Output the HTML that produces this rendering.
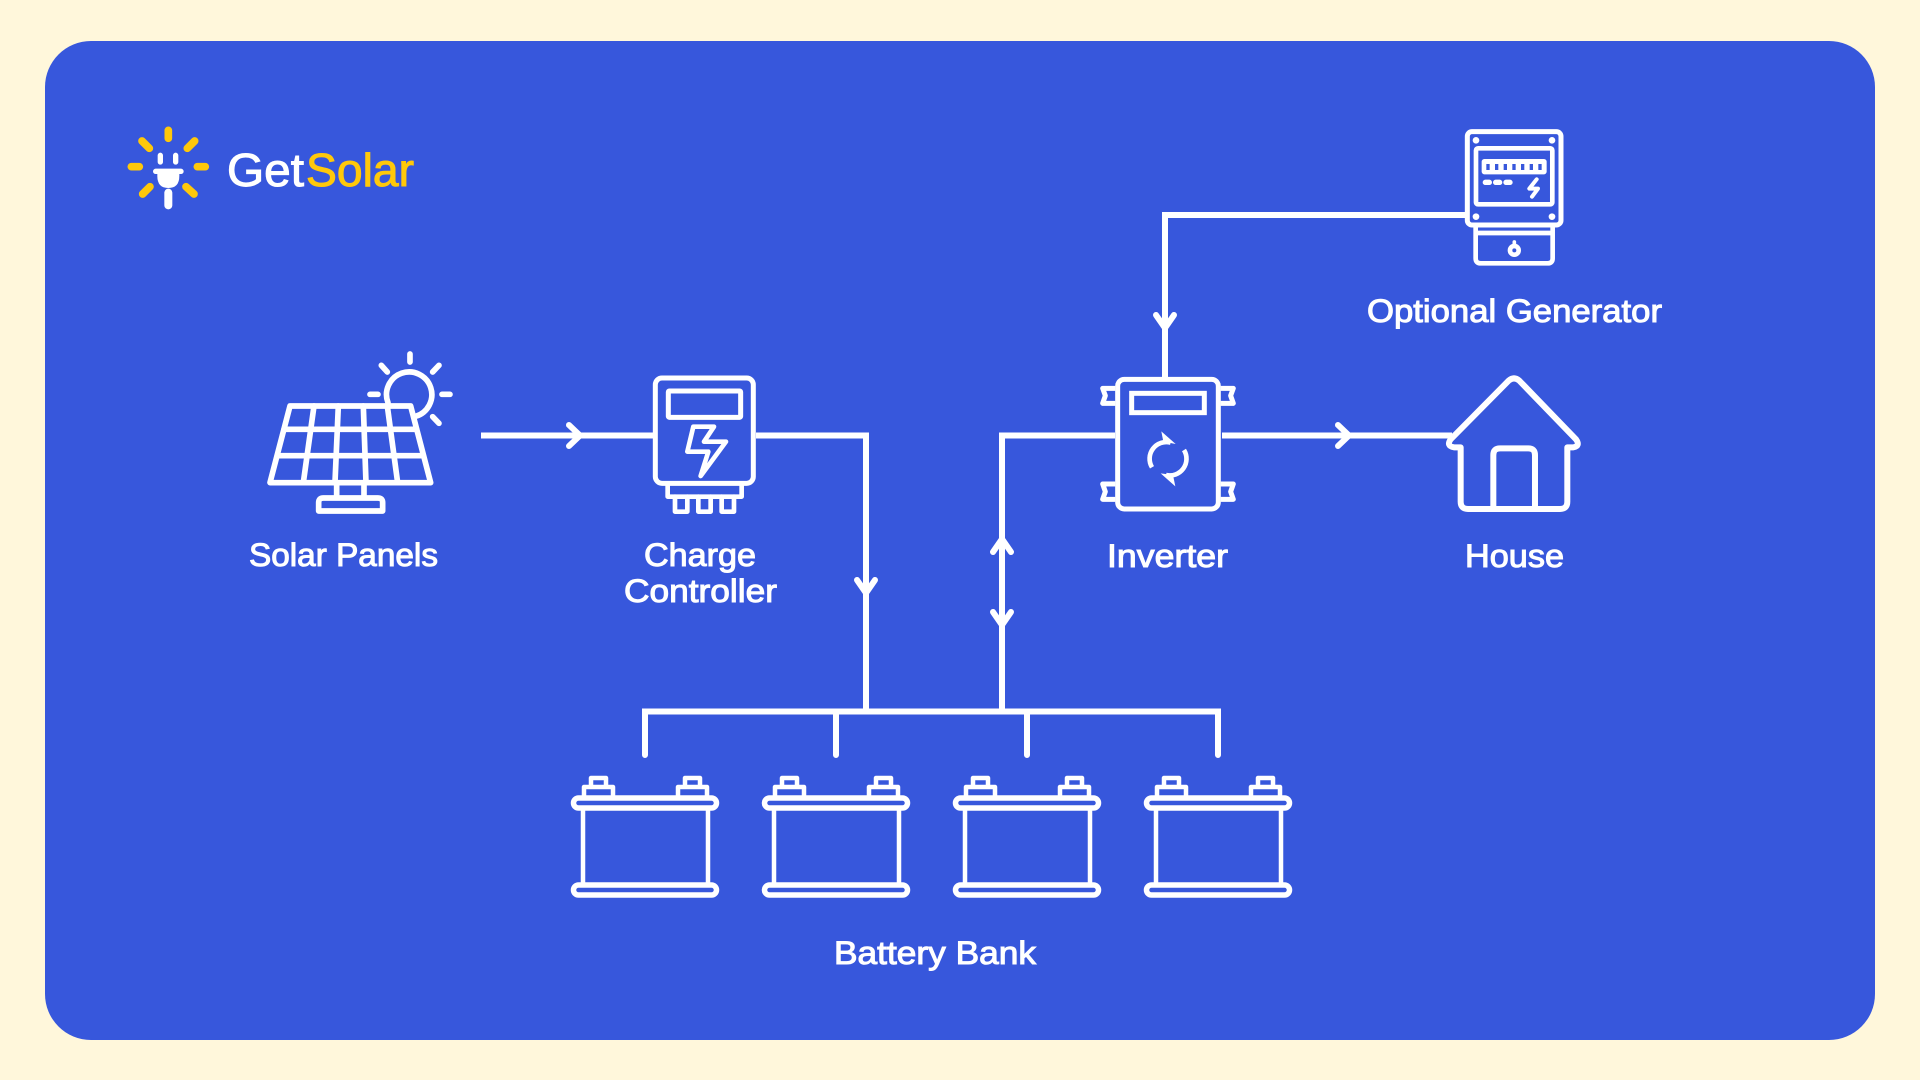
<!DOCTYPE html>
<html lang="en">
<head>
<meta charset="utf-8">
<title>GetSolar diagram</title>
<style>
html,body{margin:0;padding:0;background:#FFF7DB;width:1920px;height:1080px;overflow:hidden}
svg{display:block}
.w{fill:none;stroke:#fff;stroke-linecap:round;stroke-linejoin:round}
.c{fill:none;stroke:#fff;stroke-width:6;stroke-linejoin:miter;stroke-linecap:butt}
.a{fill:none;stroke:#fff;stroke-width:6;stroke-linejoin:round;stroke-linecap:round}
.l{font-family:"Liberation Sans",sans-serif;font-size:32px;font-weight:400;fill:#fff;stroke:#fff;stroke-width:1px}
</style>
</head>
<body>
<svg width="1920" height="1080" viewBox="0 0 1920 1080" xmlns="http://www.w3.org/2000/svg">
<rect width="1920" height="1080" fill="#FFF7DB"/>
<rect x="45" y="41" width="1830" height="999" rx="46" fill="#3757DC"/>

<!-- Logo -->
<g transform="translate(100,100) scale(.3333)">
  <g fill="none" stroke="#FFC80A" stroke-width="23" stroke-linecap="round">
    <path d="M205 91V115M94 200H118M292 200H316M126 123L148 145M284 123L262 145M150 260L128 282M258 260L282 282"/>
  </g>
  <g fill="none" stroke="#fff" stroke-linecap="round">
    <path d="M181 166V186M227 166V186" stroke-width="16"/>
    <path d="M167 214H243" stroke-width="16"/>
    <path d="M205 278V316" stroke-width="24"/>
  </g>
  <path d="M172 214H238V228Q238 264 205 264Q172 264 172 228Z" fill="#fff"/>
</g>
<text x="227" y="186" font-family="'Liberation Sans',sans-serif" font-size="46" fill="#fff" stroke="#fff" stroke-width="1" textLength="77" lengthAdjust="spacingAndGlyphs">Get</text>
<text x="306" y="186" font-family="'Liberation Sans',sans-serif" font-size="46" fill="#FFC80A" stroke="#FFC80A" stroke-width="1" textLength="108" lengthAdjust="spacingAndGlyphs">Solar</text>

<!-- Connectors -->
<path class="c" d="M481 435.500H653"/>
<path class="a" d="M569 425L580 435.500L569 446"/>
<path class="c" d="M756 435.500H866V711"/>
<path class="a" d="M857 580L866 593L875 580"/>
<path class="c" d="M1115 435.500H1002V711"/>
<path class="a" d="M993 552L1002 539L1011 552"/>
<path class="a" d="M993 612L1002 625L1011 612"/>
<path class="c" d="M1222 435.500H1452"/>
<path class="a" d="M1338 425L1349 435.500L1338 446"/>
<path class="c" d="M1465 215H1165V378"/>
<path class="a" d="M1156 315L1165 328L1174 315"/>
<path d="M645 755V711.500H1218V755M836 711.500V755M1027 711.500V755" fill="none" stroke="#fff" stroke-width="6" stroke-linecap="round" stroke-linejoin="miter"/>

<!-- Solar panel -->
<g transform="translate(240,340) scale(.3333)" class="w" stroke-width="17">
  <path d="M150 198H512L572 428H90Z"/>
  <path d="M132 268H530M113 347H550M222 198L190 428M295 198L285 428M370 198L378 428M442 198L473 428"/>
  <path d="M290 428V472M372 428V472"/>
  <path d="M236 513V488Q236 474 250 474H414Q428 474 428 488V513Z"/>
  <path d="M444 188A68 68 0 1 1 527 229"/>
  <path d="M510 42V66M390 163H414M606 163H630M424 76L442 96M597 76L578 96M578 230L597 250"/>
</g>

<!-- Charge controller -->
<g transform="translate(600,360) scale(.3333)" class="w" stroke-width="15">
  <rect x="166" y="54" width="294" height="316" rx="20"/>
  <rect x="205" y="93" width="217" height="79" rx="3"/>
  <path d="M280 200H342L312 245H378L302 348L325 275H262Z" stroke-width="14"/>
  <path d="M203 375V410H425V375" stroke-width="14"/>
  <path d="M225 410V455H262V410M295 410V455H332V410M365 410V455H402V410" stroke-width="14"/>
</g>

<!-- Inverter -->
<g transform="translate(1080,360) scale(.3333)" class="w" stroke-width="15">
  <rect x="113" y="58" width="302" height="389" rx="20"/>
  <rect x="155" y="100" width="218" height="58" stroke-linejoin="miter"/>
  <path d="M106 85H68L76 107L68 130H106M106 372H68L76 395L68 418H106M422 85H460L452 107L460 130H422M422 372H460L452 395L460 418H422" stroke-width="15" stroke-linecap="butt"/>
  <path d="M216 322A50 50 0 0 1 272 248" stroke-width="14" stroke-linecap="butt"/>
  <path d="M312 270A50 50 0 0 1 258 345" stroke-width="14" stroke-linecap="butt"/>
  <path d="M244 214L287 252L250 245Z" fill="#fff" stroke="none"/>
  <path d="M242 340L279 345L286 379Z" fill="#fff" stroke="none"/>
</g>

<!-- Meter / generator -->
<g transform="translate(1430,110) scale(.3333)" class="w" stroke-width="15">
  <rect x="112" y="65" width="281" height="280" rx="14"/>
  <rect x="138" y="115" width="229" height="168" rx="6" stroke-width="14"/>
  <rect x="155" y="147" width="195" height="46" rx="8" fill="#fff" stroke="none"/>
  <g fill="#3757DC" stroke="none">
    <rect x="169" y="162" width="10" height="18"/><rect x="195" y="162" width="10" height="18"/>
    <rect x="221" y="162" width="10" height="18"/><rect x="247" y="162" width="10" height="18"/>
    <rect x="273" y="162" width="10" height="18"/><rect x="299" y="162" width="10" height="18"/>
    <rect x="325" y="162" width="10" height="18"/>
  </g>
  <path d="M166 217H178M197 217H209M228 217H240" stroke-width="16"/>
  <path d="M320 208L298 236H324L306 260" stroke-width="12"/>
  <g fill="#fff" stroke="none">
    <circle cx="138" cy="91" r="10"/><circle cx="366" cy="91" r="10"/>
    <circle cx="138" cy="320" r="10"/><circle cx="366" cy="320" r="10"/>
  </g>
  <path d="M137 350V445Q137 460 152 460H353Q368 460 368 445V350M137 369H368" stroke-width="14" stroke-linecap="butt"/>
  <path d="M253 396V414" stroke-width="11"/>
  <circle cx="253" cy="421" r="20" fill="#fff" stroke="none"/>
  <circle cx="253" cy="421" r="6" fill="#3757DC" stroke="none"/>
</g>

<!-- House -->
<g transform="translate(1430,360) scale(.3333)" class="w" stroke-width="18">
  <path d="M92 262H72Q48 258 62 238L236 62Q252 48 268 62L438 238Q452 258 430 262H412V425Q412 447 390 447H114Q92 447 92 425Z"/>
  <path d="M190 447V285Q190 265 210 265H295Q315 265 315 285V447"/>
</g>

<!-- Batteries -->
<defs>
  <g id="bat" fill="none" stroke="#fff" stroke-width="5.500" stroke-linejoin="round">
    <rect x="573.500" y="798" width="143" height="10" rx="5"/>
    <rect x="573.500" y="885" width="143" height="10" rx="5"/>
    <path d="M583 810V883M708 810V883" stroke-width="4.500"/>
    <path d="M584 796V787H613V796M591 787V778H606V787M678 796V787H707V796M685 787V778H700V787" stroke-width="4.500"/>
  </g>
</defs>
<use href="#bat"/>
<use href="#bat" x="191"/>
<use href="#bat" x="382"/>
<use href="#bat" x="573"/>

<!-- Labels -->
<text class="l" x="249" y="566" textLength="189" lengthAdjust="spacingAndGlyphs">Solar Panels</text>
<text class="l" x="644" y="566" textLength="112" lengthAdjust="spacingAndGlyphs">Charge</text>
<text class="l" x="624" y="602" textLength="153" lengthAdjust="spacingAndGlyphs">Controller</text>
<text class="l" x="1107" y="567" textLength="121" lengthAdjust="spacingAndGlyphs">Inverter</text>
<text class="l" x="1465" y="567" textLength="99" lengthAdjust="spacingAndGlyphs">House</text>
<text class="l" x="1367" y="322" textLength="295" lengthAdjust="spacingAndGlyphs">Optional Generator</text>
<text class="l" x="834" y="964" textLength="202" lengthAdjust="spacingAndGlyphs">Battery Bank</text>
</svg>
</body>
</html>
